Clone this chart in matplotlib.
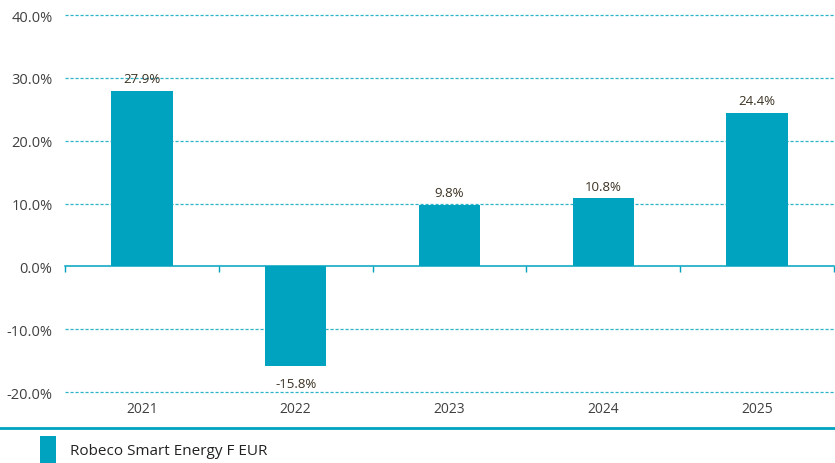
import matplotlib.pyplot as plt
from matplotlib.lines import Line2D

# Annual returns
years = ["2021", "2022", "2023", "2024", "2025"]
returns = [27.9, -15.8, 9.8, 10.8, 24.4]
series_name = "Robeco Smart Energy F EUR"
y_ticks = [-20, -10, 0, 10, 20, 30, 40]

teal = "#00a3bf"
grid_col = "#2fb3c9"
text_col = "#404040"
label_col = "#3b3222"

plt.rcParams["font.family"] = ["Open Sans", "DejaVu Sans"]

fig = plt.figure(figsize=(8.35, 4.64), dpi=100)
ax = fig.add_axes([0.0778, 0.153, 0.921, 0.8125])

x = list(range(len(years)))
bars = ax.bar(x, returns, width=0.4, color=teal, label=series_name, zorder=3)

# value labels
for xi, v in zip(x, returns):
    if v >= 0:
        ax.annotate(f"{v:.1f}%", (xi, v), xytext=(0, 4), textcoords="offset points",
                    ha="center", va="bottom", fontsize=9.5, color=label_col)
    else:
        ax.annotate(f"{v:.1f}%", (xi, v), xytext=(0, -8), textcoords="offset points",
                    ha="center", va="top", fontsize=9.5, color=label_col)

ax.set_xlim(-0.5, len(years) - 0.5)
ax.set_ylim(-20, 40)
ax.set_yticks(y_ticks)
ax.set_yticklabels([f"{t:.1f}%" for t in y_ticks])

# dashed gridlines (skip zero, that is the axis line)
for t in y_ticks:
    if t != 0:
        ax.axhline(t, color=grid_col, lw=0.9, ls=(0, (2.5, 1.5)), zorder=1, clip_on=False)

for s in ["top", "right", "left"]:
    ax.spines[s].set_visible(False)
ax.spines["bottom"].set_position(("data", 0))
ax.spines["bottom"].set_color(teal)
ax.spines["bottom"].set_linewidth(1.1)
ax.spines["bottom"].set_zorder(4)

# tick marks at category boundaries
ax.set_xticks([i - 0.5 for i in range(len(years) + 1)])
ax.tick_params(axis="x", length=4, width=1, color=teal, labelbottom=False, direction="out")
ax.tick_params(axis="y", length=0, labelsize=10.5, labelcolor=text_col, pad=9)

# category labels below the plot
for xi, yr in zip(x, years):
    ax.text(xi, -0.045, yr, transform=ax.get_xaxis_transform(), ha="center", va="center",
            fontsize=10, color=text_col)

# separator line and legend
fig.add_artist(Line2D([0, 1], [1 - 429 / 464] * 2, transform=fig.transFigure,
                      color=teal, lw=2))
fig.legend(handles=[bars], labels=[series_name], loc="upper left",
           bbox_to_anchor=(40 / 835, 1 - 437 / 464), frameon=False, fontsize=11,
           handlelength=1.05, handleheight=2.4, handletextpad=0.9, borderpad=0,
           borderaxespad=0, labelcolor="#222222")

fig.savefig("out.png", dpi=100)
